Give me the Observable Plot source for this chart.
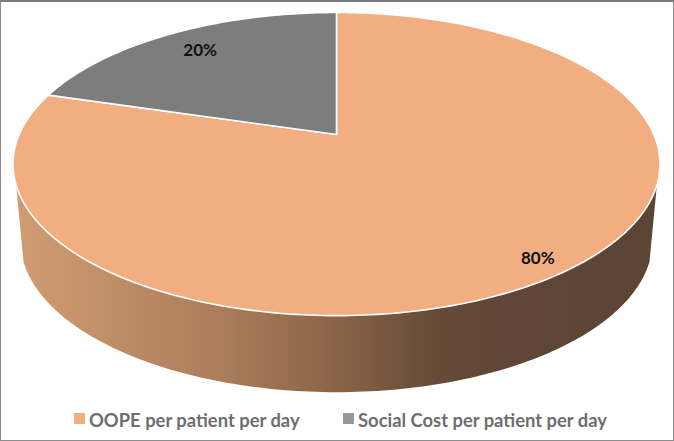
<!DOCTYPE html>
<html>
<head>
<meta charset="utf-8">
<script src="https://cdn.jsdelivr.net/npm/d3@7"></script>
<script src="https://cdn.jsdelivr.net/npm/@observablehq/plot@0.6"></script>
<style>
html,body{margin:0;padding:0;background:#fff}
#wrap{position:relative;width:674px;height:441px;overflow:hidden;font-family:Lato,"Open Sans",sans-serif}
#frame{position:absolute;inset:0;box-sizing:border-box;border:1.5px solid #8c8c8c;border-top:2px solid #7a7a7a;pointer-events:none}
#legend{position:absolute;left:0;top:400px;width:674px;height:41px;font-weight:700;font-size:18.4px;color:#6e6e6e;white-space:nowrap}
#legend .sw{position:absolute;top:13px;width:11px;height:11px}
#legend .tx{position:absolute;top:9px;line-height:22px}
svg{display:block}
</style>
</head>
<body>
<div id="wrap"><div id="chart"></div><div id="legend"></div><div id="frame"></div></div>
<script>
// Data
const categories = ["OOPE per patient per day", "Social Cost per patient per day"];
const shares = [79.6, 20.4];
const labels = ["80%", "20%"];
const sliceColors = ["#f2ae80", "#7d7d7d"];
const legendColors = ["#f4ae7e", "#989898"];

// Perspective of the disc
const tilt = 0.195, depth = 0.525, baseScale = 0.977;
const labelRadius = [0.91, 0.81];
const wallFrom = 109, wallTo = 251;

const project = (deg, r = 1) => {
  const t = deg * Math.PI / 180, u = r * Math.sin(t), v = r * Math.cos(t), d = 1 + tilt * v;
  return {x: u / d, y: v / d};
};
const total = d3.sum(shares);
let start = 0;
const slices = shares.map((s, i) => {
  const a0 = start, a1 = start + s / total * 360; start = a1;
  const pts = [project(0, 0)];
  for (let a = a0; a < a1; a += 1) pts.push(project(a));
  pts.push(project(a1), project(0, 0));
  const lab = project((a0 + a1) / 2, labelRadius[i]);
  return {pts, color: sliceColors[i], label: {...lab, text: labels[i]}};
});
const wall = [];
for (let a = wallFrom; a <= wallTo; a += 1) wall.push(project(a));
for (let a = wallTo; a >= wallFrom; a -= 1) {
  const p = project(a);
  wall.push({x: p.x * baseScale, y: p.y - depth});
}
const defs = () => {
  const d = d3.create("svg:defs");
  const g = d.append("linearGradient").attr("id", "wall");
  [[0, "#d29c72"], [.33, "#a97c5a"], [.5, "#8a6346"], [.65, "#664b38"], [.76, "#5f4636"], [1, "#5c4434"]]
    .forEach(([o, c]) => g.append("stop").attr("offset", o).attr("stop-color", c));
  return d.node();
};

const chart = Plot.plot({
  width: 674, height: 400,
  margin: 0,
  x: {domain: [-1, 1], range: [18.7, 653.3], axis: null},
  y: {domain: [-1, 1], range: [279.8, -11.8], axis: null},
  style: {background: "transparent"},
  marks: [
    defs,
    Plot.line(wall, {x: "x", y: "y", fill: "url(#wall)", stroke: "none", curve: "linear"}),
    ...slices.map(s => Plot.line(s.pts, {x: "x", y: "y", fill: s.color, stroke: "#fff", strokeWidth: 1.6, curve: "linear", strokeLinejoin: "round"})),
    Plot.text(slices.map(s => s.label), {x: "x", y: "y", text: "text", fill: "#111", fontWeight: 700, fontSize: 17, fontFamily: "Lato, 'Open Sans', sans-serif"})
  ]
});
document.getElementById("chart").appendChild(chart);

const legend = d3.select("#legend");
const swatchX = [74, 343];
categories.forEach((c, i) => {
  legend.append("div").attr("class", "sw").style("left", swatchX[i] + "px").style("background", legendColors[i]);
  legend.append("div").attr("class", "tx").style("left", swatchX[i] + 15 + "px").text(c);
});
</script>
</body>
</html>
